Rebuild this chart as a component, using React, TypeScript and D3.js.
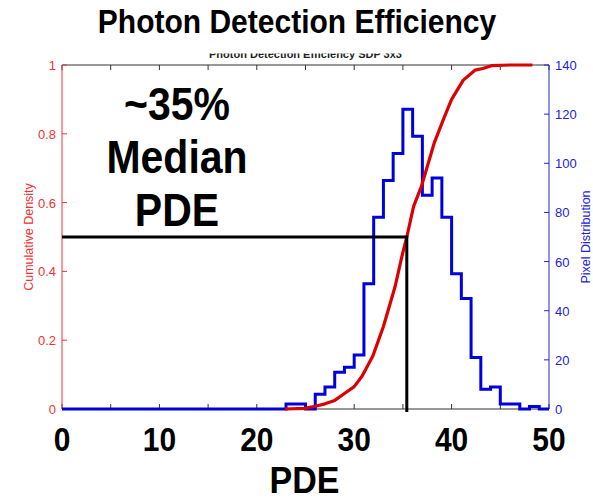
import React from 'react';
import * as d3 from 'd3';

// Histogram (Pixel Distribution): bin left edges (PDE) and counts
const binLeft = [23, 24, 25, 26, 27, 28, 29, 30, 31, 32, 33, 34, 35, 36, 37, 38, 39, 40, 41, 42, 43, 44, 45, 46, 47, 48, 49];
const binCount = [2, 2, 0, 6, 9, 15, 17, 22, 51, 78, 93, 104, 122, 111, 87, 94, 78, 55, 45, 21, 8, 9, 2, 2, 0, 1, 0];

// Cumulative density curve
const cdfX = [22.9, 24.9, 26.0, 27.0, 28.0, 29.0, 30.0, 30.8, 31.9, 33.0, 34.2, 34.9, 35.4, 36.1, 36.9, 38.2, 39.2, 40.0, 41.2, 42.4, 43.2, 44.1, 46.0, 48.3];
const cdfY = [0, 0.002, 0.008, 0.015, 0.025, 0.045, 0.065, 0.095, 0.153, 0.24, 0.356, 0.444, 0.5, 0.589, 0.647, 0.772, 0.845, 0.9, 0.956, 0.985, 0.99, 0.998, 1.0, 1.0];

const xTicks = [0, 10, 20, 30, 40, 50];
const xMinorTicks = [0, 5, 10, 15, 20, 25, 30, 35, 40, 45, 50];
const leftTicks = [0, 0.2, 0.4, 0.6, 0.8, 1];
const rightTicks = [0, 20, 40, 60, 80, 100, 120, 140];
const medianPDE = 35.4;

const W = 593, H = 499;
const L = 62, R = 549, T = 65, B = 409;
const FONT = 'Liberation Sans, Arial, Helvetica, sans-serif';
const RED_AX = '#ee3333';
const BLUE_AX = '#2222dd';

export default function App() {
  const x = d3.scaleLinear().domain([0, 50]).range([L, R]);
  const yL = d3.scaleLinear().domain([0, 1]).range([B, T]);
  const yR = d3.scaleLinear().domain([0, 140]).range([B, T]);

  const stairPts: [number, number][] = [[0, 0]];
  binLeft.forEach((b, i) => stairPts.push([b, binCount[i]]));
  stairPts.push([50, 0]);
  const stairs = d3.line<[number, number]>()
    .x(d => x(d[0])).y(d => yR(d[1])).curve(d3.curveStepAfter)(stairPts) || '';

  const cdf = d3.line<number>()
    .x((_, i) => x(cdfX[i])).y(d => yL(d))(cdfY) || '';

  const big = (txt: string, cx: number, by: number, size: number, sy: number, anchor = 'middle') => (
    <text transform={`translate(${cx},${by}) scale(1,${sy})`} textAnchor={anchor}
      fontFamily={FONT} fontWeight="bold" fontSize={size} fill="#000">{txt}</text>
  );

  return (
    <div style={{ position: 'fixed', left: 0, top: 0, width: W, height: H, background: '#fff' }}>
      <svg width={W} height={H} style={{ display: 'block' }}>
        <rect x={0} y={0} width={W} height={H} fill="#fff" />
        {/* small clipped original title */}
        <clipPath id="tclip"><rect x={0} y={53.5} width={W} height={10} /></clipPath>
        <text x={(L + R) / 2} y={58} textAnchor="middle" fontFamily={FONT} fontWeight="bold" fontSize={11}
          fill="#222" clipPath="url(#tclip)">Photon Detection Efficiency SDP 3x3</text>

        {big('Photon Detection Efficiency', 297, 33, 30, 1.08)}

        {/* plot frame top */}
        <line x1={L} x2={R} y1={T} y2={T} stroke="#333" strokeWidth={1} />
        {xMinorTicks.map(t => (
          <line key={'tt' + t} x1={x(t)} x2={x(t)} y1={T} y2={T + 5} stroke="#333" strokeWidth={1} />
        ))}
        {/* bottom axis */}
        <line x1={L} x2={R} y1={B} y2={B} stroke="#333" strokeWidth={1} />
        {xMinorTicks.map(t => (
          <line key={'bt' + t} x1={x(t)} x2={x(t)} y1={B} y2={B - 5} stroke="#333" strokeWidth={1} />
        ))}
        {xTicks.map(t => (
          <g key={'bl' + t}>{big(String(t), x(t), 451, 30, 1.12)}</g>
        ))}
        {big('PDE', (L + R) / 2 - 1, 493, 34, 1.08)}

        {/* left axis */}
        <line x1={L} x2={L} y1={T} y2={B} stroke={RED_AX} strokeWidth={1} />
        {leftTicks.map(t => (
          <g key={'lt' + t}>
            <line x1={L} x2={L + 5} y1={yL(t)} y2={yL(t)} stroke={RED_AX} strokeWidth={1} />
            <text x={L - 6} y={yL(t) + 5} textAnchor="end" fontFamily={FONT} fontSize={13} fill={RED_AX}>{t}</text>
          </g>
        ))}
        <text transform={`translate(33,${(T + B) / 2}) rotate(-90)`} textAnchor="middle" fontFamily={FONT}
          fontSize={12.5} fill={RED_AX}>Cumulative Density</text>

        {/* right axis */}
        <line x1={R} x2={R} y1={T} y2={B} stroke={BLUE_AX} strokeWidth={1} />
        {rightTicks.map(t => (
          <g key={'rt' + t}>
            <line x1={R} x2={R - 5} y1={yR(t)} y2={yR(t)} stroke={BLUE_AX} strokeWidth={1} />
            <text x={R + 6} y={yR(t) + 5} textAnchor="start" fontFamily={FONT} fontSize={13} fill={BLUE_AX}>{t}</text>
          </g>
        ))}
        <text transform={`translate(590,${(T + B) / 2}) rotate(-90)`} textAnchor="middle" fontFamily={FONT}
          fontSize={12.5} fill={BLUE_AX}>Pixel Distribution</text>

        {/* data */}
        <path d={stairs} fill="none" stroke="#0000dd" strokeWidth={3} />
        <path d={cdf} fill="none" stroke="#dd0000" strokeWidth={3.2} strokeLinejoin="round" />
        {/* median guide */}
        <path d={`M${x(0)},${yL(0.5)}H${x(medianPDE)}V${yL(0) + 3}`} fill="none" stroke="#000" strokeWidth={3} />

        {/* annotation */}
        {big('~35%', 177, 120, 41, 1.12)}
        {big('Median', 177, 173, 41, 1.12)}
        {big('PDE', 177, 226, 41, 1.12)}
      </svg>
    </div>
  );
}
